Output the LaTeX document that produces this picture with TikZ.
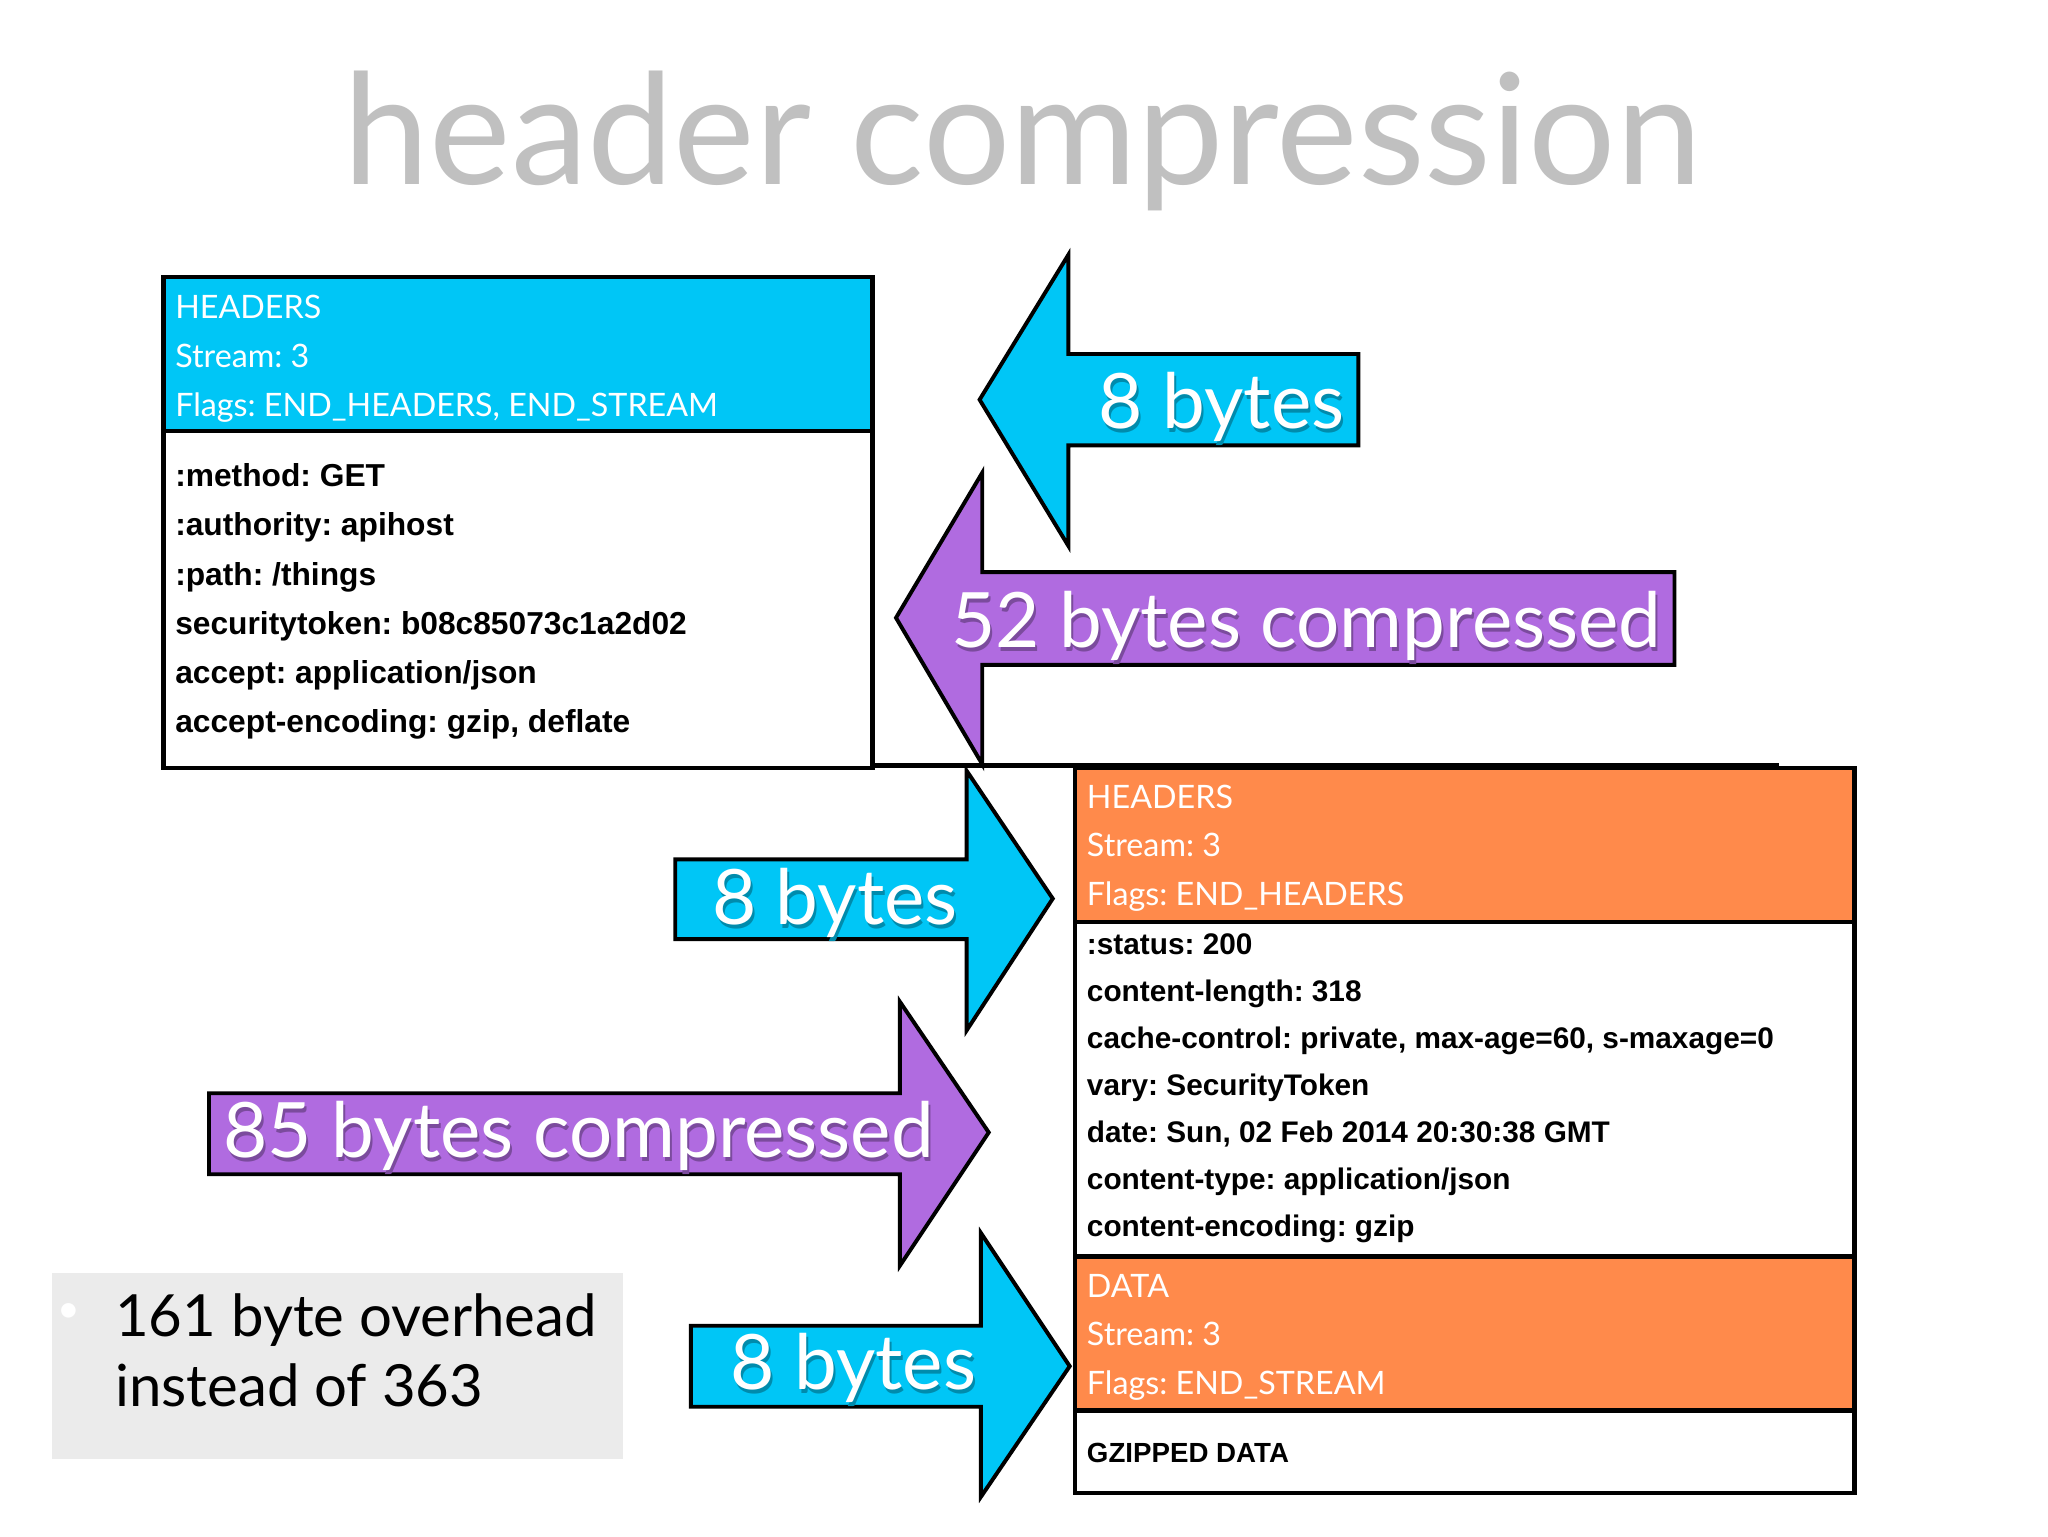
\documentclass[tikz,border=0pt]{standalone}
\usepackage{fontspec}
\newfontfamily\gill{Lato}
\newfontfamily\helv{Liberation Sans}

\definecolor{framecyan}{HTML}{00C6F6}
\definecolor{framepurple}{HTML}{B06BE0}
\definecolor{frameorange}{HTML}{FF8A4B}
\definecolor{titlegrey}{HTML}{C0C0C0}
\definecolor{notegrey}{HTML}{EBEBEB}

% white label with a dark copy just below it
\newcommand{\dropshadow}[2]{\makebox[0pt][l]{\hspace{1.5pt}\raisebox{-3pt}{\color{#1}#2}}#2}

\tikzset{
  frame/.style={draw=black, line width=3.5pt},
  pointer/.style={draw=black, line width=3pt, line join=miter},
  title/.style={font=\gill\fontsize{118}{120}\selectfont, text=titlegrey, anchor=base, inner sep=0},
  flag/.style={font=\gill\fontsize{24.7}{25}\selectfont, text=white, anchor=base west, inner sep=0},
  field/.style={font=\helv\bfseries\fontsize{24.3}{25}\selectfont, anchor=base west, inner sep=0},
  smallfield/.style={field, font=\helv\bfseries\fontsize{22.8}{23}\selectfont},
  bytes/.style={font=\gill\fontsize{58.5}{60}\selectfont, text=white, anchor=base west, inner sep=0},
  note/.style={font=\gill\fontsize{44.5}{45}\selectfont, anchor=base west, inner sep=0}
}

\begin{document}
\frenchspacing
\begin{tikzpicture}[x=1pt, y=-1pt]
  \fill[white] (0,0) rectangle (1568,1176);
  \useasboundingbox (0,0) rectangle (1568,1176);

  \node[title] (title) at (783,141) {header compression};

  % request frame
  \draw[frame, fill=framecyan] (125,212) rectangle (668,330);
  \draw[frame, fill=white] (125,330) rectangle (668,588);
  \foreach \t [count=\i from 0] in {HEADERS, Stream: 3, {Flags: END\_HEADERS, END\_STREAM}}
    \node[flag] (reqflag\i) at (134, 243.6+37.6*\i) {\t};
  \foreach \t [count=\i from 0] in {:method: GET, :authority: apihost, :path: /things,
      securitytoken: b08c85073c1a2d02, accept: application/json, {accept-encoding: gzip, deflate}}
    \node[field] (reqfield\i) at (134, 372.6+37.7*\i) {\t};

  \coordinate (reqcorner) at (668,586);
  \coordinate (ruleend) at (1362,586);
  \draw[frame] (reqcorner) -- (ruleend);

  % response frames
  \draw[frame, fill=frameorange] (823,588) rectangle (1420,706);
  \draw[frame, fill=white] (823,706) rectangle (1420,962);
  \draw[frame, fill=frameorange] (823,962) rectangle (1420,1080);
  \draw[frame, fill=white] (823,1080) rectangle (1420,1143);
  \foreach \t [count=\i from 0] in {HEADERS, Stream: 3, Flags: END\_HEADERS}
    \node[flag] (respflag\i) at (832, 618.7+37.4*\i) {\t};
  \foreach \t [count=\i from 0] in {:status: 200, content-length: 318,
      {cache-control: private, max-age=60, s-maxage=0}, vary: SecurityToken,
      {date: Sun, 02 Feb 2014 20:30:38 GMT}, content-type: application/json, content-encoding: gzip}
    \node[smallfield] (respfield\i) at (832, 731+36*\i) {\t};
  \foreach \t [count=\i from 0] in {DATA, Stream: 3, Flags: END\_STREAM}
    \node[flag] (dataflag\i) at (832, 993+37.2*\i) {\t};
  \node[field, font=\helv\bfseries\fontsize{21.2}{22}\selectfont] (payload) at (832,1120) {GZIPPED DATA};

  % arrows
  \draw[pointer, fill=framecyan] (750,306) -- (818,195) -- (818,271) -- (1040,271)
    -- (1040,341) -- (818,341) -- (818,418) -- cycle;
  \node[bytes] (req8) at (841,328) {\dropshadow{framecyan!70!black}{8 bytes}};

  \draw[pointer, fill=framepurple] (686,473) -- (752,362) -- (752,438) -- (1282,438)
    -- (1282,509) -- (752,509) -- (752,585) -- cycle;
  \node[bytes] (req52) at (728,496) {\dropshadow{framepurple!70!black}{52 bytes compressed}};

  \draw[pointer, fill=framecyan] (517,658) -- (740,658) -- (740,590) -- (806,688)
    -- (740,789) -- (740,719) -- (517,719) -- cycle;
  \node[bytes] (resp8) at (545,707.5) {\dropshadow{framecyan!70!black}{8 bytes}};

  \draw[pointer, fill=framepurple] (160,837) -- (689,837) -- (689,767) -- (757,867)
    -- (689,969) -- (689,899) -- (160,899) -- cycle;
  \node[bytes] (resp85) at (171,886.5) {\dropshadow{framepurple!70!black}{85 bytes compressed}};

  \draw[pointer, fill=framecyan] (529,1015) -- (751,1015) -- (751,944) -- (819,1046)
    -- (751,1146) -- (751,1077) -- (529,1077) -- cycle;
  \node[bytes] (data8) at (559,1064) {\dropshadow{framecyan!70!black}{8 bytes}};

  % summary
  \fill[notegrey] (40,975) rectangle (477,1117);
  \node[note, text=white, anchor=center, font=\gill\fontsize{30}{30}\selectfont] (dot) at (53,1005) {•};
  \node[note] (note0) at (88,1023) {161 byte overhead};
  \node[note] (note1) at (88,1077) {instead of 363};
\end{tikzpicture}
\end{document}
